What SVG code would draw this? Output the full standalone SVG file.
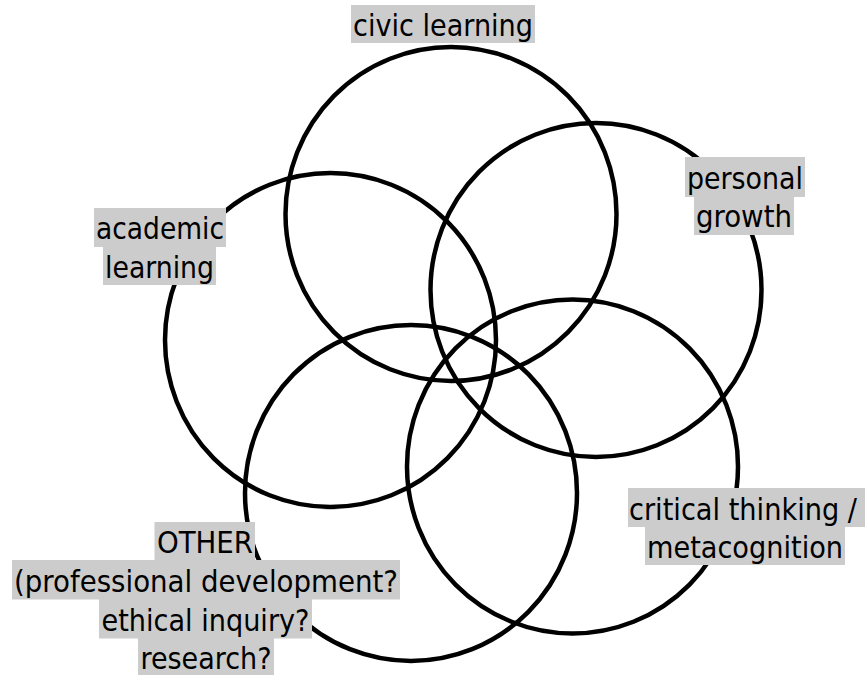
<svg xmlns="http://www.w3.org/2000/svg" width="865" height="675" viewBox="0 0 865 675">
<style>
.c{fill:none;stroke:#000;stroke-width:4.5}
.b{fill:#cccccc}
.t{font-family:"DejaVu Sans Condensed","DejaVu Sans",sans-serif;font-size:30.5px;fill:#000;text-anchor:middle}
</style>
<rect width="865" height="675" fill="#fff"/>
<g id="connectors"></g>
<g id="circle-civic"><ellipse class="c" cx="451" cy="214" rx="165.5" ry="167"/></g>
<g id="circle-personal"><ellipse class="c" cx="596" cy="290" rx="165.5" ry="167"/></g>
<g id="circle-academic"><ellipse class="c" cx="330.5" cy="340" rx="165.5" ry="167"/></g>
<g id="circle-critical"><ellipse class="c" cx="572.5" cy="466.5" rx="165.5" ry="167"/></g>
<g id="circle-other"><ellipse class="c" cx="411" cy="493" rx="166" ry="168"/></g>
<g id="label-civic">
<rect class="b" x="351" y="5" width="184" height="38"/>
<text class="t" x="443" y="36" textLength="180" lengthAdjust="spacingAndGlyphs">civic learning</text>
</g>
<g id="label-academic">
<rect class="b" x="94" y="208" width="132" height="39"/>
<rect class="b" x="103" y="246.5" width="113" height="38.5"/>
<text class="t" x="160" y="239" textLength="128" lengthAdjust="spacingAndGlyphs">academic</text>
<text class="t" x="159.5" y="277.5" textLength="109" lengthAdjust="spacingAndGlyphs">learning</text>
</g>
<g id="label-personal">
<rect class="b" x="685" y="157" width="120" height="40"/>
<rect class="b" x="694" y="196.5" width="100" height="38.5"/>
<text class="t" x="745" y="188.5" textLength="116" lengthAdjust="spacingAndGlyphs">personal</text>
<text class="t" x="744" y="227" textLength="96" lengthAdjust="spacingAndGlyphs">growth</text>
</g>
<g id="label-critical">
<rect class="b" x="628" y="488" width="237" height="39"/>
<rect class="b" x="645" y="526.5" width="200" height="38.5"/>
<text class="t" x="743" y="519.5" textLength="228" lengthAdjust="spacingAndGlyphs">critical thinking /</text>
<text class="t" x="745" y="558" textLength="196" lengthAdjust="spacingAndGlyphs">metacognition</text>
</g>
<g id="label-other">
<rect class="b" x="154.5" y="522" width="100.5" height="38.5"/>
<rect class="b" x="12" y="560" width="388" height="39.5"/>
<rect class="b" x="99" y="599" width="213" height="39.5"/>
<rect class="b" x="138" y="638" width="136" height="37"/>
<text class="t" x="205" y="553" textLength="96" lengthAdjust="spacingAndGlyphs">OTHER</text>
<text class="t" x="206" y="591.5" textLength="384" lengthAdjust="spacingAndGlyphs">(professional development?</text>
<text class="t" x="205.5" y="630.5" textLength="208" lengthAdjust="spacingAndGlyphs">ethical inquiry?</text>
<text class="t" x="206" y="669" textLength="131" lengthAdjust="spacingAndGlyphs">research?</text>
</g>
</svg>
